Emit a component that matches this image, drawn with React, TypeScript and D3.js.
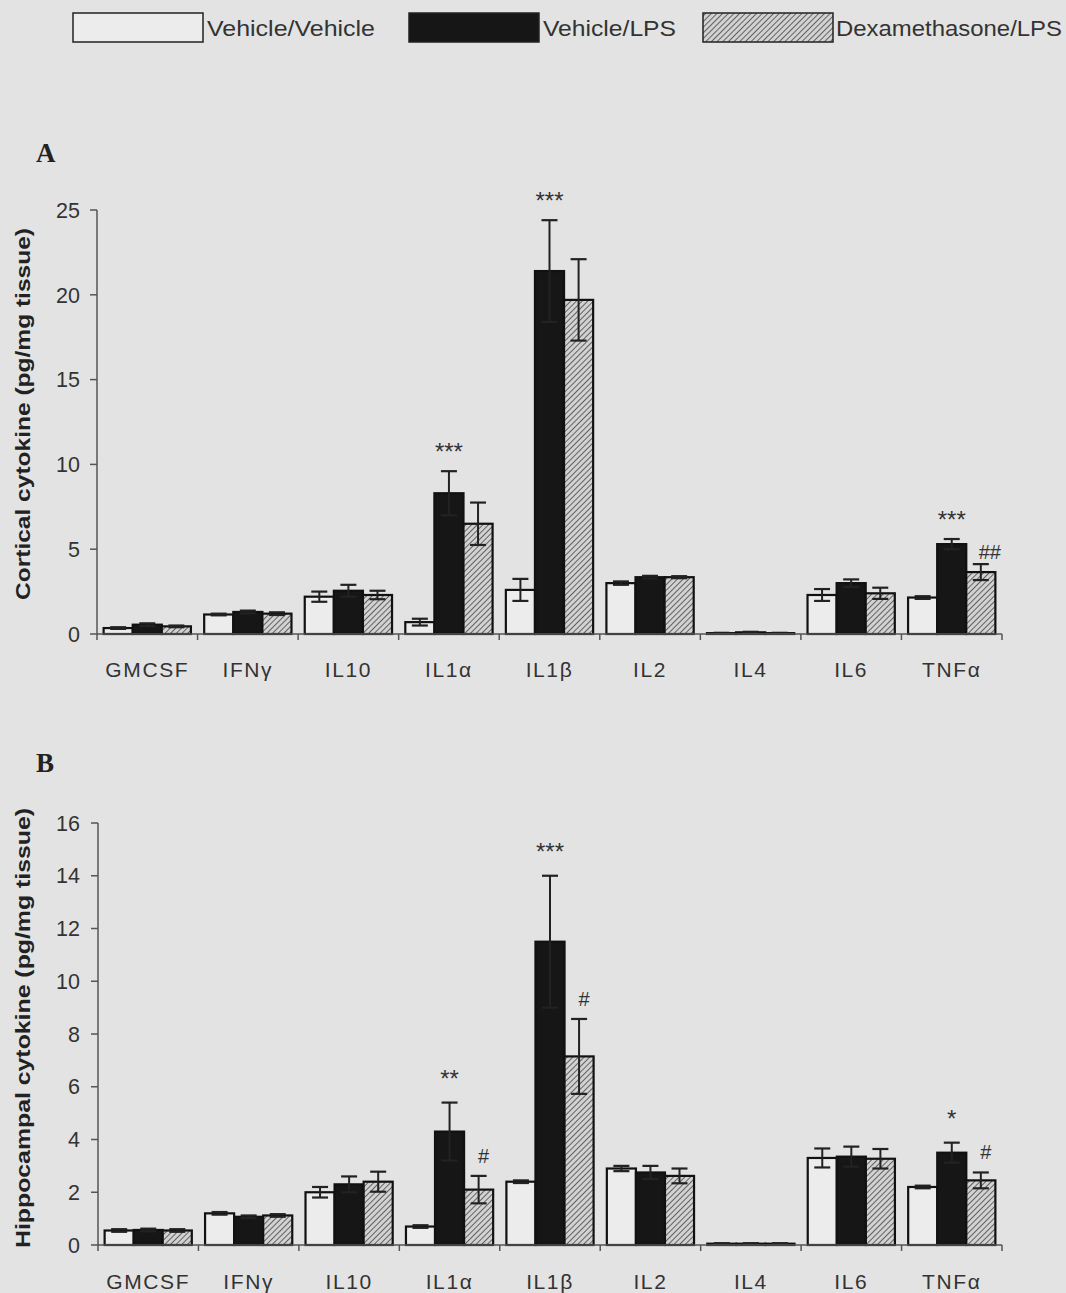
import React from "react";
import * as d3 from "d3";

const categories = ["GMCSF", "IFNγ", "IL10", "IL1α", "IL1β", "IL2", "IL4", "IL6", "TNFα"];
const seriesNames = ["Vehicle/Vehicle", "Vehicle/LPS", "Dexamethasone/LPS"];

// Panel A: cortical cytokine (pg/mg tissue)
const cortVV = [0.35, 1.15, 2.2, 0.7, 2.6, 3.0, 0.05, 2.3, 2.15];
const cortVVErr = [0.05, 0.05, 0.3, 0.2, 0.65, 0.1, 0.02, 0.35, 0.08];
const cortLPS = [0.55, 1.3, 2.55, 8.3, 21.4, 3.35, 0.1, 3.0, 5.3];
const cortLPSErr = [0.08, 0.08, 0.35, 1.3, 3.0, 0.08, 0.03, 0.22, 0.3];
const cortDex = [0.45, 1.2, 2.3, 6.5, 19.7, 3.35, 0.05, 2.4, 3.65];
const cortDexErr = [0.05, 0.08, 0.25, 1.25, 2.4, 0.06, 0.02, 0.33, 0.47];
const cortTicks = [0, 5, 10, 15, 20, 25];

// Panel B: hippocampal cytokine (pg/mg tissue)
const hipVV = [0.55, 1.2, 2.0, 0.7, 2.4, 2.9, 0.05, 3.3, 2.2];
const hipVVErr = [0.05, 0.05, 0.2, 0.05, 0.05, 0.1, 0.02, 0.36, 0.05];
const hipLPS = [0.57, 1.07, 2.3, 4.3, 11.5, 2.75, 0.05, 3.35, 3.5];
const hipLPSErr = [0.05, 0.05, 0.3, 1.1, 2.5, 0.25, 0.02, 0.38, 0.38];
const hipDex = [0.55, 1.12, 2.4, 2.1, 7.15, 2.62, 0.05, 3.27, 2.45];
const hipDexErr = [0.05, 0.05, 0.38, 0.52, 1.42, 0.28, 0.02, 0.37, 0.3];
const hipTicks = [0, 2, 4, 6, 8, 10, 12, 14, 16];

const cortAnnotations = [
  { cat: "IL1α", series: 1, label: "***" },
  { cat: "IL1β", series: 1, label: "***" },
  { cat: "TNFα", series: 1, label: "***" },
  { cat: "TNFα", series: 2, label: "##" },
];
const hipAnnotations = [
  { cat: "IL1α", series: 1, label: "**" },
  { cat: "IL1α", series: 2, label: "#" },
  { cat: "IL1β", series: 1, label: "***" },
  { cat: "IL1β", series: 2, label: "#" },
  { cat: "TNFα", series: 1, label: "*" },
  { cat: "TNFα", series: 2, label: "#" },
];

const BG = "#e3e3e3";
const SANS = "'Liberation Sans', Arial, sans-serif";
const SERIF = "'Liberation Serif', 'Times New Roman', serif";
const fills = ["#ececec", "#161616", "url(#hatch)"];

type Ann = { cat: string; series: number; label: string };

function Panel(props: {
  letter: string;
  letterY: number;
  title: string;
  titleY: number;
  titleLen: number;
  x0: number;
  x1: number;
  yBase: number;
  yTopPx: number;
  yMax: number;
  ticks: number[];
  values: number[][];
  errors: number[][];
  annotations: Ann[];
  starGap: number;
  labelY: number;
}) {
  const { x0, x1, yBase, yTopPx, yMax, ticks, values, errors } = props;
  const x = d3.scaleBand<string>().domain(categories).range([x0, x1]).paddingInner(0).paddingOuter(0);
  const inner = d3
    .scaleBand<number>()
    .domain([0, 1, 2])
    .range([0, x.bandwidth()])
    .paddingOuter(0.228)
    .paddingInner(0);
  const y = d3.scaleLinear().domain([0, yMax]).range([yBase, yTopPx]);
  const capW = 16;

  return (
    <g>
      <text x={36} y={props.letterY} fontFamily={SERIF} fontWeight="bold" fontSize={27} fill="#222">
        {props.letter}
      </text>
      <text
        transform={`translate(30, ${props.titleY}) rotate(-90)`}
        textAnchor="middle"
        fontFamily={SANS}
        fontWeight="bold"
        fontSize={21}
        fill="#222"
        textLength={props.titleLen}
        lengthAdjust="spacingAndGlyphs"
      >
        {props.title}
      </text>
      {/* y axis */}
      <line x1={x0} x2={x0} y1={yTopPx} y2={yBase} stroke="#555" strokeWidth={1.5} />
      {ticks.map((t) => (
        <g key={t}>
          <line x1={x0 - 7} x2={x0} y1={y(t)} y2={y(t)} stroke="#555" strokeWidth={1.5} />
          <text x={80} y={y(t)} dy="0.36em" textAnchor="end" fontFamily={SANS} fontSize={21.5} fill="#333">
            {t}
          </text>
        </g>
      ))}
      {/* bars */}
      {categories.map((c, i) => (
        <g key={c}>
          {[0, 1, 2].map((s) => {
            const bx = (x(c) as number) + (inner(s) as number);
            const bw = inner.bandwidth();
            const v = values[s][i];
            const e = errors[s][i];
            const cx = bx + bw / 2;
            return (
              <g key={s}>
                <rect
                  x={bx}
                  y={y(v)}
                  width={bw}
                  height={yBase - y(v)}
                  fill={fills[s]}
                  stroke="#111"
                  strokeWidth={2.2}
                />
                <line x1={cx} x2={cx} y1={y(v + e)} y2={y(Math.max(0, v - e))} stroke="#222" strokeWidth={2} />
                <line x1={cx - capW / 2} x2={cx + capW / 2} y1={y(v + e)} y2={y(v + e)} stroke="#222" strokeWidth={2.2} />
                <line
                  x1={cx - capW / 2}
                  x2={cx + capW / 2}
                  y1={y(Math.max(0, v - e))}
                  y2={y(Math.max(0, v - e))}
                  stroke="#222"
                  strokeWidth={2.2}
                />
              </g>
            );
          })}
          <text
            x={(x(c) as number) + x.bandwidth() / 2}
            y={props.labelY}
            textAnchor="middle"
            fontFamily={SANS}
            fontSize={21}
            letterSpacing={1.6}
            fill="#333"
          >
            {c}
          </text>
        </g>
      ))}
      {/* x axis */}
      <line x1={x0} x2={x1} y1={yBase} y2={yBase} stroke="#555" strokeWidth={1.5} />
      {d3.range(categories.length + 1).map((k) => {
        const xx = x0 + k * x.bandwidth();
        return <line key={k} x1={xx} x2={xx} y1={yBase} y2={yBase + 6} stroke="#555" strokeWidth={1.5} />;
      })}
      {/* annotations */}
      {props.annotations.map((a, k) => {
        const i = categories.indexOf(a.cat);
        const bx = (x(a.cat) as number) + (inner(a.series) as number) + inner.bandwidth() / 2;
        const top = y(values[a.series][i] + errors[a.series][i]);
        const isStar = a.label.includes("*");
        const gap = isStar ? props.starGap : a.label === "##" ? 5 : 13;
        const dx = isStar ? 0 : a.label === "##" ? 9 : 5;
        return (
          <text
            key={k}
            x={bx + dx}
            y={top - gap}
            textAnchor="middle"
            fontFamily={SANS}
            fontSize={isStar ? 24 : 20}
            fill="#333"
          >
            {a.label}
          </text>
        );
      })}
    </g>
  );
}

export default function App() {
  const legendBoxes = [73, 409, 703];
  const legendTextX = [207, 543, 836];
  const legendTextW = [168, 133, 226];
  return (
    <svg
      width={1066}
      height={1293}
      style={{ position: "absolute", left: 0, top: 0, display: "block" }}
    >
      <defs>
        <pattern id="hatch" patternUnits="userSpaceOnUse" width={4} height={4} patternTransform="rotate(45)">
          <rect width={4} height={4} fill="#d2d2d2" />
          <line x1={0} y1={0} x2={0} y2={4} stroke="#444" strokeWidth={1.6} />
        </pattern>
      </defs>
      <rect width={1066} height={1293} fill={BG} />
      {/* legend */}
      {seriesNames.map((n, s) => (
        <g key={n}>
          <rect x={legendBoxes[s]} y={13} width={130} height={29} fill={fills[s]} stroke="#222" strokeWidth={1.5} />
          <text
            x={legendTextX[s]}
            y={36}
            fontFamily={SANS}
            fontSize={22}
            fill="#333"
            textLength={legendTextW[s]}
            lengthAdjust="spacingAndGlyphs"
          >
            {n}
          </text>
        </g>
      ))}
      <Panel
        letter="A"
        letterY={162}
        title="Cortical cytokine (pg/mg tissue)"
        titleY={414}
        titleLen={372}
        x0={97}
        x1={1002}
        yBase={634}
        yTopPx={210}
        yMax={25}
        ticks={cortTicks}
        values={[cortVV, cortLPS, cortDex]}
        errors={[cortVVErr, cortLPSErr, cortDexErr]}
        annotations={cortAnnotations}
        starGap={11}
        labelY={677}
      />
      <Panel
        letter="B"
        letterY={772}
        title="Hippocampal cytokine (pg/mg tissue)"
        titleY={1028}
        titleLen={440}
        x0={98}
        x1={1002}
        yBase={1245}
        yTopPx={823}
        yMax={16}
        ticks={hipTicks}
        values={[hipVV, hipLPS, hipDex]}
        errors={[hipVVErr, hipLPSErr, hipDexErr]}
        annotations={hipAnnotations}
        starGap={16}
        labelY={1289}
      />
    </svg>
  );
}
